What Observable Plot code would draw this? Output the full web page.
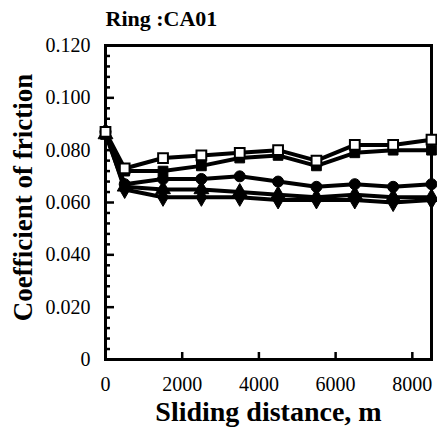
<!DOCTYPE html>
<html>
<head>
<meta charset="utf-8">
<script src="https://cdn.jsdelivr.net/npm/d3@7"></script>
<script src="https://cdn.jsdelivr.net/npm/@observablehq/plot@0.6"></script>
<style>
  html, body { margin: 0; padding: 0; background: white; }
  #chart svg { display: block; }
</style>
</head>
<body>
<div id="chart"></div>
<script>
const titleText = "Ring :CA01";
const xLabel = "Sliding distance, m";
const yLabel = "Coefficient of friction";

const distances = [0, 500, 1500, 2500, 3500, 4500, 5500, 6500, 7500, 8500];
const openSquare     = [0.087, 0.073, 0.077, 0.078, 0.079, 0.080, 0.076, 0.082, 0.082, 0.084];
const filledSquare   = [0.086, 0.072, 0.072, 0.074, 0.077, 0.078, 0.074, 0.079, 0.080, 0.080];
const filledCircle   = [0.087, 0.067, 0.069, 0.069, 0.070, 0.068, 0.066, 0.067, 0.066, 0.067];
const filledTriangle = [0.086, 0.066, 0.065, 0.065, 0.064, 0.063, 0.062, 0.063, 0.062, 0.062];
const filledDiamond  = [0.087, 0.065, 0.062, 0.062, 0.062, 0.061, 0.061, 0.061, 0.060, 0.061];

const seriesNames   = ["open square", "filled square", "filled circle", "filled triangle", "filled diamond"];
const seriesValues  = [openSquare, filledSquare, filledCircle, filledTriangle, filledDiamond];
const seriesSymbols = ["square", "square", "circle", "triangle", "diamond"];

const xTicks = [0, 2000, 4000, 6000, 8000];
const xTickLabels = ["0", "2000", "4000", "6000", "8000"];
const yTicks = [0, 0.02, 0.04, 0.06, 0.08, 0.10, 0.12];
const yTickLabels = ["0", "0.020", "0.040", "0.060", "0.080", "0.100", "0.120"];
const yMinorTicks = d3.range(0, 0.1201, 0.004).filter(v => !yTicks.some(t => Math.abs(t - v) < 1e-9));

const rows = seriesNames.flatMap((name, i) =>
  distances.map((d, j) => ({series: name, symbol: seriesSymbols[i], x: d, y: seriesValues[i][j]}))
);
const openRows = rows.filter(r => r.series === "open square");
const filledRows = rows.filter(r => r.series !== "open square");

const font = "'Liberation Serif', 'Times New Roman', serif";

const chart = Plot.plot({
  width: 437,
  height: 430,
  marginLeft: 105,
  marginRight: 6,
  marginTop: 45,
  marginBottom: 71,
  style: {fontFamily: font, color: "black", background: "white"},
  x: {domain: [0, 8500]},
  y: {domain: [0, 0.12]},
  symbol: {domain: seriesSymbols, range: seriesSymbols},
  marks: [
    Plot.axisY(yMinorTicks, {tickSize: -5, text: null, label: null, strokeWidth: 2.5}),
    Plot.axisY(yTicks, {tickSize: -9, strokeWidth: 2.5, text: null, label: null}),
    Plot.axisY(yTicks, {tickSize: 0, tickPadding: 15, fontSize: 20, label: null,
      tickFormat: (d, i) => yTickLabels[i]}),
    Plot.axisX(xTicks.slice(1), {tickSize: -7, strokeWidth: 2.5, text: null, label: null}),
    Plot.axisX(xTicks, {tickSize: 0, tickPadding: 17, fontSize: 20, label: null,
      tickFormat: (d, i) => xTickLabels[i]}),
    Plot.frame({stroke: "black", strokeWidth: 3}),
    Plot.line(rows, {x: "x", y: "y", z: "series", stroke: "black", strokeWidth: 4}),
    Plot.dot(filledRows, {x: "x", y: "y", symbol: "symbol", fill: "black", stroke: "black", strokeWidth: 1, r: 5.5}),
    Plot.dot(openRows, {x: "x", y: "y", symbol: "symbol", fill: "white", stroke: "black", strokeWidth: 2, r: 5.5}),
    Plot.text([titleText], {frameAnchor: "top-left", dy: -27, textAnchor: "start", lineAnchor: "middle", fontSize: 22, fontWeight: "bold", fill: "black"}),
    Plot.text([yLabel], {frameAnchor: "left", dx: -82, dy: -5, rotate: -90, textAnchor: "middle", lineAnchor: "middle", fontSize: 27, fontWeight: "bold", fill: "black"}),
    Plot.text([xLabel], {frameAnchor: "bottom", dy: 53, textAnchor: "middle", lineAnchor: "middle", fontSize: 28, fontWeight: "bold", fill: "black"})
  ]
});
document.getElementById("chart").appendChild(chart);
</script>
</body>
</html>
